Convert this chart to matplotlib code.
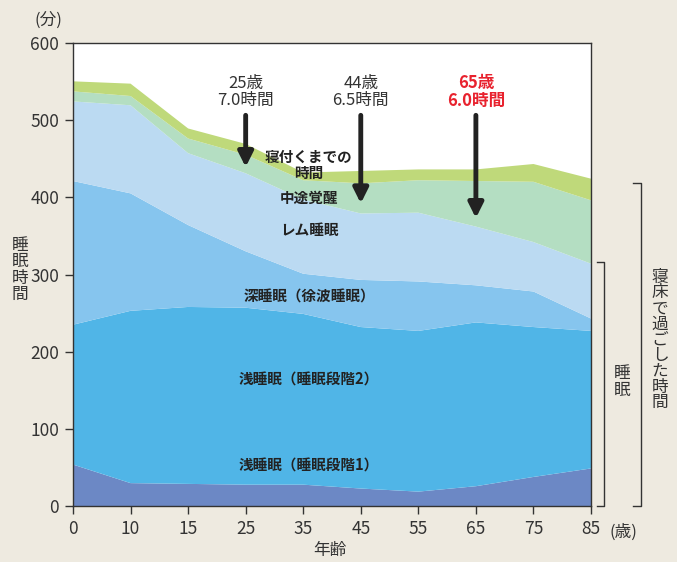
import numpy as np
import matplotlib.pyplot as plt

plt.rcParams['font.family'] = ['Noto Sans CJK JP', 'DejaVu Sans']

# 年齢（横軸のカテゴリ）
ages = ['0', '10', '15', '25', '35', '45', '55', '65', '75', '85']

# 各睡眠段階の時間（分）、下から積み上げ
stage1 = [54, 30, 29, 28, 28, 23, 19, 26, 38, 49]
stage2 = [181, 223, 229, 229, 221, 209, 208, 212, 194, 178]
deep = [186, 152, 106, 73, 52, 61, 64, 48, 46, 16]
rem = [103, 114, 93, 101, 96, 86, 89, 76, 64, 71]
wake = [13, 12, 19, 24, 25, 39, 42, 59, 78, 82]
latency = [13, 16, 13, 14, 10, 16, 14, 15, 23, 28]

layer_names = ['浅睡眠（睡眠段階1）', '浅睡眠（睡眠段階2）', '深睡眠（徐波睡眠）',
               'レム睡眠', '中途覚醒', '寝付くまでの\n時間']
colors = ['#6C88C5', '#50B5E7', '#86C5EE', '#BBDAF2', '#B4DEC2', '#BFD97A']

# 矢印の注記
notes = [('25歳\n7.0時間', 3, 439), ('44歳\n6.5時間', 5, 392), ('65歳\n6.0時間', 7, 373)]

bg = '#EEEAE0'
fig = plt.figure(figsize=(6.77, 5.62), dpi=100, facecolor=bg)
ax = fig.add_axes([73/677, 1 - 506.3/562, (591 - 73)/677, (506.3 - 42.7)/562])
ax.set_facecolor('white')

x = np.arange(len(ages))
ax.stackplot(x, stage1, stage2, deep, rem, wake, latency, colors=colors, lw=0)

ax.set_xlim(0, len(ages) - 1)
ax.set_ylim(0, 600)
ax.set_xticks(x)
ax.set_xticklabels(ages)
ax.set_yticks(range(0, 601, 100))
ax.tick_params(direction='out', length=6, width=1, colors='#333333', labelsize=12.5, pad=4)
for s in ax.spines.values():
    s.set_color('#333333')
    s.set_linewidth(1)

# 層のラベル
label_y = [53, 164, 272, 358, 399, 442]
for name, ly in zip(layer_names, label_y):
    ax.text(4.1, ly, name, ha='center', va='center', fontsize=10.5,
            fontweight='bold', color='#222222', linespacing=1.0)

# 矢印と年齢ラベル
for i, (txt, xi, ytip) in enumerate(notes):
    red = i == 2
    ax.text(xi, 536, txt, ha='center', va='center', fontsize=12,
            color='#E8222E' if red else '#333333',
            fontweight='bold' if red else 'normal', linespacing=1.0)
    ax.annotate('', xy=(xi, ytip), xytext=(xi, 506),
                arrowprops=dict(arrowstyle='-|>', lw=3.5, color='#222222',
                                mutation_scale=22, shrinkA=0, shrinkB=0))

# 軸ラベル
fig.text(48/677, 1 - 20/562, '(分)', ha='center', va='center', fontsize=12, color='#333333')
fig.text(20/677, 1 - 270/562, '睡\n眠\n時\n間', ha='center', va='center',
         fontsize=12, color='#333333', linespacing=0.95)
fig.text(330/677, 1 - 550/562, '年齢', ha='center', va='center', fontsize=12, color='#333333')
fig.text(623/677, 1 - 532/562, '(歳)', ha='center', va='center', fontsize=12, color='#333333')

# 右側の括弧
def bracket(xv, ytop, ybot, w):
    xs = [(xv - w)/677, xv/677, xv/677, (xv - w)/677]
    ys = [1 - ytop/562, 1 - ytop/562, 1 - ybot/562, 1 - ybot/562]
    fig.add_artist(plt.Line2D(xs, ys, color='#333333', lw=1))

bracket(604, 262, 506, 7)
bracket(641, 183, 506, 8)
fig.text(622/677, 1 - 382/562, '睡\n眠', ha='center', va='center',
         fontsize=12, color='#333333', linespacing=0.95)
fig.text(660/677, 1 - 340/562, '\n'.join('寝床で過ごした時間'), ha='center', va='center',
         fontsize=12, color='#333333', linespacing=0.9)

fig.savefig('out.png', dpi=100, facecolor=bg)
